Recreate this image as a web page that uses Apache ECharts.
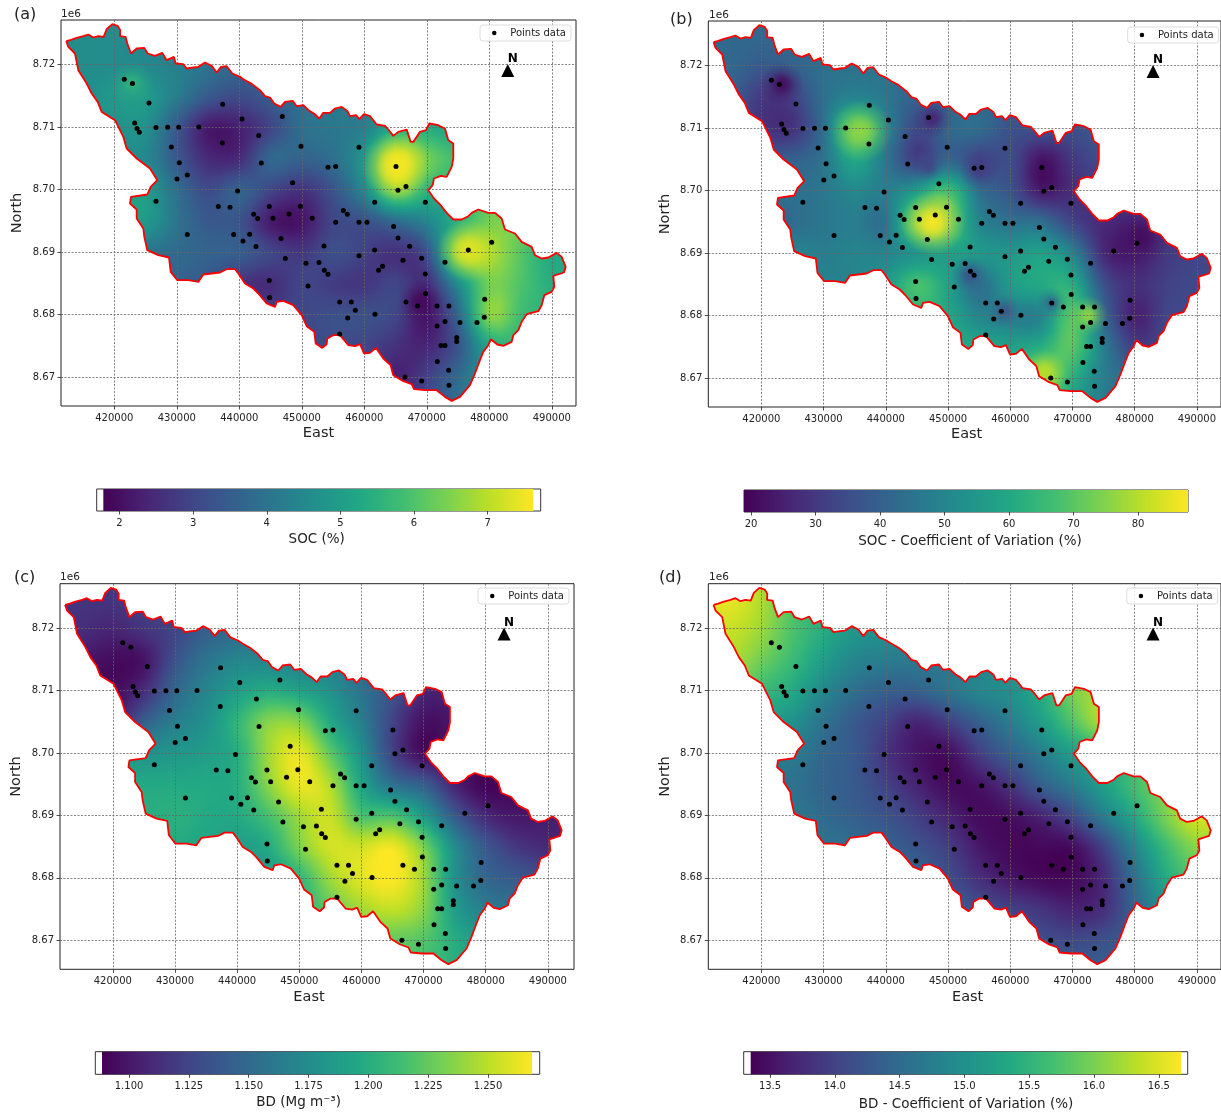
<!DOCTYPE html>
<html><head><meta charset="utf-8">
<style>html,body{margin:0;padding:0;background:#fff;overflow:hidden}#c{width:1221px;height:1113px}</style>
<script src="https://cdn.jsdelivr.net/npm/echarts@6/dist/echarts.min.js"></script>
</head><body><div id="c"></div>
<script>
// ---- grid node positions of the read surfaces (km)
const eastKm=[415,420,425,430,435,440,445,450,455,460,465,470,475,480,485,490];
const northKm=[8725,8720,8715,8710,8705,8700,8695,8690,8685,8680,8675,8670,8665];
// ---- surfaces (rows north to south)
const socGrid=[
[4.6,4.6,4.5,4.3,3.9,3.6,3.6,3.8,4.0,4.2,5.0,5.0,5.0,6.0,6.0,5.5],
[4.6,4.6,4.5,4.3,4.0,3.7,3.7,3.8,4.0,4.2,5.0,5.0,5.0,6.0,6.0,5.5],
[4.6,4.9,4.9,4.2,3.4,3.1,3.5,3.9,4.1,4.3,5.0,5.2,5.2,6.0,6.0,5.5],
[4.6,4.7,4.7,3.4,2.2,2.3,3.0,3.9,4.1,4.3,5.4,5.4,5.2,6.0,6.0,5.5],
[4.6,4.6,4.5,3.4,2.5,2.5,3.7,3.6,3.9,4.9,7.3,6.4,5.8,6.0,6.0,5.5],
[5.0,5.0,5.0,3.9,3.1,3.6,3.0,2.6,3.3,4.5,6.6,5.6,5.5,6.0,6.0,5.5],
[4.9,4.9,4.9,4.0,3.4,3.3,2.2,2.1,3.0,3.2,3.8,4.4,5.5,6.4,6.3,5.5],
[4.0,4.0,4.0,3.8,3.6,3.5,3.0,2.7,3.2,2.9,2.6,3.2,6.6,6.9,6.1,5.3],
[3.6,3.6,3.6,3.6,3.3,2.7,2.5,3.0,2.8,2.7,3.0,2.5,4.6,6.4,6.0,5.4],
[3.2,3.2,3.2,3.2,3.2,3.0,2.9,3.0,3.2,3.2,3.0,2.1,3.7,6.6,5.8,5.5],
[3.1,3.1,3.1,3.1,3.1,3.1,3.1,3.1,3.1,3.0,2.6,2.4,3.3,5.2,5.5,5.5],
[3.0,3.0,3.0,3.0,3.0,3.0,3.0,3.0,3.0,3.0,2.3,2.9,3.8,4.8,5.2,5.2],
[3.0,3.0,3.0,3.0,3.0,3.0,3.0,3.0,3.0,3.0,2.5,3.2,3.9,4.8,5.0,5.0]];
const socCvGrid=[
[42,42,42,42,44,44,44,42,42,40,38,36,36,36,36,36],
[42,38,40,44,45,45,44,43,42,40,38,36,36,36,36,36],
[40,30,32,44,50,46,40,42,42,40,36,36,36,36,36,36],
[36,30,29,44,70,50,34,42,43,36,36,35,38,36,36,36],
[38,38,40,45,60,46,32,42,33,35,22,30,35,36,36,36],
[44,44,44,46,51,48,57,68,44,37,24,28,32,33,33,33],
[40,40,43,46,48,45,74,72,50,45,44,33,27,26,30,33],
[48,48,50,48,50,50,55,58,55,55,58,50,27,24,30,33],
[50,50,50,50,50,55,68,58,44,56,60,62,36,28,32,34],
[55,55,55,55,55,55,62,60,50,48,50,70,42,25,33,34],
[60,60,60,60,60,60,60,60,60,58,62,70,48,32,34,34],
[60,60,60,60,60,60,60,60,60,60,78,62,48,42,40,40],
[60,60,60,60,60,60,60,60,60,60,60,55,47,42,40,40]];
const bdGrid=[
[1.116,1.116,1.125,1.13,1.143,1.15,1.15,1.15,1.15,1.15,1.13,1.11,1.105,1.1,1.1,1.1],
[1.112,1.107,1.116,1.125,1.143,1.15,1.155,1.16,1.16,1.15,1.13,1.11,1.105,1.1,1.1,1.1],
[1.1,1.094,1.098,1.134,1.157,1.17,1.17,1.165,1.165,1.15,1.13,1.11,1.105,1.1,1.1,1.1],
[1.095,1.094,1.112,1.148,1.17,1.188,1.2,1.193,1.179,1.157,1.134,1.107,1.105,1.1,1.1,1.1],
[1.107,1.107,1.143,1.165,1.179,1.206,1.236,1.236,1.197,1.165,1.125,1.096,1.1,1.1,1.1,1.1],
[1.179,1.179,1.179,1.183,1.188,1.2,1.242,1.263,1.224,1.179,1.125,1.094,1.1,1.098,1.098,1.098],
[1.197,1.197,1.197,1.197,1.197,1.2,1.236,1.263,1.247,1.193,1.157,1.143,1.107,1.09,1.095,1.1],
[1.2,1.2,1.2,1.202,1.197,1.197,1.215,1.242,1.254,1.218,1.218,1.188,1.14,1.11,1.1,1.103],
[1.197,1.197,1.197,1.197,1.193,1.188,1.197,1.233,1.256,1.256,1.265,1.233,1.175,1.138,1.118,1.11],
[1.188,1.188,1.188,1.188,1.188,1.188,1.188,1.206,1.242,1.26,1.268,1.242,1.179,1.148,1.14,1.134],
[1.206,1.206,1.206,1.206,1.206,1.206,1.206,1.206,1.224,1.242,1.251,1.236,1.188,1.165,1.157,1.15],
[1.224,1.224,1.224,1.224,1.224,1.224,1.224,1.224,1.224,1.224,1.224,1.22,1.2,1.183,1.17,1.17],
[1.215,1.215,1.215,1.215,1.215,1.215,1.215,1.215,1.215,1.215,1.215,1.215,1.2,1.188,1.18,1.18]];
const bdCvGrid=[
[16.57,16.27,15.74,15.4,15.08,15.0,14.9,14.9,14.9,15.0,15.4,16.0,16.3,16.3,16.3,16.3],
[16.4,16.17,15.74,15.4,15.08,15.0,14.9,14.9,14.9,15.0,15.4,16.0,16.3,16.3,16.3,16.3],
[16.27,15.94,15.6,15.18,14.85,14.74,14.68,14.7,14.8,15.0,15.4,16.0,16.3,16.3,16.3,16.3],
[16.0,15.6,15.34,14.88,14.55,14.35,14.35,14.6,14.85,15.0,15.4,16.0,16.27,16.3,16.3,16.3],
[15.3,15.18,15.0,14.6,14.28,14.0,13.68,13.95,14.35,14.74,15.18,15.74,16.27,16.3,16.3,16.3],
[14.74,14.74,14.74,14.45,14.28,13.85,13.55,13.45,13.95,14.35,14.74,15.18,15.34,15.6,15.8,16.0],
[14.68,14.68,14.6,14.41,14.28,14.0,13.68,13.45,13.52,13.85,14.35,14.74,15.2,15.67,15.99,16.17],
[14.68,14.68,14.68,14.5,14.35,14.2,13.95,13.68,13.45,13.48,13.68,14.08,14.74,15.34,16.0,16.44],
[14.6,14.6,14.6,14.6,14.55,14.41,14.2,13.95,13.58,13.42,13.42,13.45,14.0,14.85,15.6,16.07],
[14.6,14.6,14.6,14.6,14.6,14.55,14.45,14.15,13.8,13.55,13.42,13.42,13.75,14.55,15.34,15.74],
[14.5,14.5,14.5,14.5,14.5,14.5,14.45,14.35,14.18,14.0,13.85,13.68,13.8,14.41,15.0,15.3],
[14.4,14.4,14.4,14.4,14.4,14.4,14.4,14.35,14.3,14.28,14.15,14.08,14.18,14.35,14.6,14.8],
[14.4,14.4,14.4,14.4,14.4,14.4,14.4,14.4,14.3,14.28,14.28,14.35,14.35,14.45,14.6,14.8]];
// ---- local extremes narrower than the node spacing: east km, north km, value, radius km
const socSpots=[[465.1,8703.7,7.55,5.5],[476.7,8690.3,7.35,5],[422.9,8717,5.5,3.5],[469,8682,1.9,3.5]];
const socCvSpots=[[447.6,8694.8,87,5.2],[423.3,8717,21,3.5],[447.5,8711.5,26,3.2],[446.8,8704,33,2.6],[455,8703.5,31,3.2],[453.5,8686.5,37,3],[459,8680.7,38,2.6],[466.6,8682,43,2.6],[481,8692.5,21,4.5],[436,8709.5,76,5],[472.5,8680,76,3.2],[465.5,8671,80,3.5]];
const bdSpots=[];
const bdCvSpots=[];
// ---- study area boundary (east km, north km)
const boundary=[[412.32,8723.73],[413.07,8723.94],[413.98,8724.26],[415.04,8724.53],[415.84,8724.8],[416.64,8724.32],[417.44,8724.53],[418.3,8724.42],[418.78,8725.65],[419.68,8726.45],[420.54,8726.18],[420.96,8725.49],[420.91,8724.53],[421.82,8724.42],[422.08,8723.36],[422.67,8721.76],[423.58,8722.56],[424.8,8722.66],[425.34,8721.76],[426.51,8721.38],[427.68,8721.86],[428.38,8720.69],[429.55,8721.22],[429.82,8720.16],[431.04,8720.05],[431.58,8719.36],[432.64,8719.52],[433.44,8719.62],[434.51,8720.32],[435.58,8719.78],[436.38,8718.72],[437.07,8719.62],[437.98,8719.73],[438.88,8718.56],[440.11,8718.02],[440.91,8717.49],[442,8716.9],[443.31,8715.89],[444.11,8714.93],[444.91,8714.72],[445.6,8713.76],[446.62,8713.22],[447.31,8714.02],[448.54,8714.18],[449.18,8713.33],[450.24,8713.49],[451.2,8712.58],[451.95,8712.16],[452.8,8711.36],[453.44,8712.26],[454.51,8712.26],[455.31,8712.96],[456.38,8713.22],[457.28,8712.58],[457.71,8711.73],[458.67,8711.89],[459.2,8711.25],[459.95,8712.05],[460.91,8711.73],[461.98,8710.4],[463.31,8710.18],[463.84,8709.6],[464.64,8708.58],[465.44,8709.22],[466.78,8709.6],[467.42,8707.62],[467.84,8707.62],[468.91,8709.22],[469.87,8709.49],[470.4,8710.56],[471.84,8710.29],[472.91,8709.76],[473.44,8707.89],[474.24,8707.36],[474.24,8704.96],[473.98,8703.62],[473.18,8702.02],[472.22,8702.18],[471.15,8701.76],[470.94,8700.69],[470.24,8699.89],[471.15,8698.56],[472.22,8697.49],[473.18,8696.26],[474.24,8695.2],[475.58,8695.2],[476.64,8695.73],[477.18,8696.26],[478.24,8696.8],[479.84,8696.26],[480.91,8696.26],[481.98,8695.36],[482.51,8693.6],[484.11,8692.96],[485.18,8691.62],[486.78,8690.82],[487.31,8689.49],[488.38,8688.96],[489.44,8689.12],[490.78,8689.86],[491.58,8689.22],[492.22,8687.62],[491.95,8686.72],[490.24,8686.18],[490.4,8684.42],[489.98,8683.62],[488.8,8683.09],[488.38,8681.49],[487.84,8680.53],[485.98,8680.05],[485.18,8678.82],[484.64,8677.49],[483.84,8676.69],[483.58,8675.62],[482.24,8674.98],[481.28,8675.2],[480.27,8676.05],[479.84,8675.09],[479.04,8674.02],[478.51,8672.69],[477.71,8670.56],[476.91,8668.69],[475.31,8666.82],[473.98,8666.18],[472.91,8666.82],[471.58,8667.89],[469.71,8667.89],[467.95,8668.05],[467.58,8668.85],[466.24,8669.33],[464.64,8670.29],[464.2,8671.89],[463.04,8672.96],[461.87,8674.66],[460.91,8673.86],[459.95,8673.76],[459.31,8675.25],[458.51,8674.93],[457.44,8675.09],[456.11,8676.69],[455.04,8676.69],[454.08,8676.16],[453.98,8675.25],[453.28,8674.66],[452.22,8675.36],[452,8677.22],[450.78,8678.13],[449.98,8679.89],[448.64,8681.49],[447.04,8682.18],[445.98,8682.02],[445.71,8681.22],[444.38,8681.76],[443.04,8683.36],[442.24,8684.16],[440.91,8684.96],[439.84,8686.56],[439.31,8687.25],[437.98,8687.25],[436.91,8686.72],[434.24,8686.4],[433.44,8685.22],[431.84,8685.49],[430.08,8685.49],[429.02,8686.82],[428.75,8689.12],[427.04,8689.49],[425.28,8690.29],[424.8,8692.42],[424.64,8693.76],[423.58,8695.36],[423.58,8696.8],[422.51,8697.76],[422.67,8698.82],[425.28,8699.2],[425.82,8700.42],[426.88,8701.49],[426.78,8701.76],[425.71,8703.36],[423.58,8704.96],[421.98,8706.56],[421.44,8708.42],[420.11,8711.09],[417.98,8712.42],[417.34,8714.02],[416.38,8715.36],[415.58,8716.96],[414.24,8719.09],[413.71,8721.76],[412.64,8722.82],[412.32,8723.73]];
// ---- sampling points (east km, north km)
const samplePoints=[[421.6,8717.65],[422.9,8716.96],[425.55,8713.86],[423.26,8710.66],[423.63,8709.76],[424,8709.17],[426.67,8709.92],[428.54,8709.97],[430.3,8709.97],[433.55,8710.02],[437.34,8713.65],[437.28,8707.46],[440.43,8711.3],[429.12,8706.82],[430.4,8704.27],[431.68,8702.34],[430.03,8701.7],[439.73,8699.78],[448.53,8701.1],[426.67,8698.13],[436.64,8697.28],[438.51,8697.17],[444.8,8697.28],[442.3,8696.05],[442.94,8695.36],[445.39,8695.41],[447.95,8696.1],[449.76,8697.33],[431.68,8692.8],[439.1,8692.8],[441.66,8692.85],[440.59,8691.78],[442.67,8690.88],[446.67,8692.16],[447.36,8688.96],[450.67,8688.21],[444.8,8685.44],[451,8684.58],[444.86,8682.72],[446.88,8711.68],[443.1,8708.64],[449.87,8706.93],[459.15,8706.77],[443.52,8704.26],[454.19,8703.57],[455.42,8703.68],[465.07,8703.68],[466.67,8700.48],[465.39,8699.89],[461.66,8697.97],[469.76,8697.97],[456.64,8696.64],[457.28,8696.05],[451.68,8695.41],[455.42,8694.77],[459.15,8694.77],[460.43,8694.77],[464.69,8694.08],[465.39,8692.26],[467.26,8690.93],[453.55,8690.98],[461.66,8690.34],[459.15,8689.4],[452.75,8688.32],[453.6,8687.09],[454.19,8686.45],[466.19,8688.69],[469.18,8689],[462.93,8687.73],[462.29,8687.09],[469.76,8686.5],[472.91,8688.37],[476.64,8690.34],[469.8,8683.36],[456.06,8682.02],[457.92,8682.02],[458.56,8680.69],[457.34,8679.46],[461.71,8680.05],[466.67,8682.02],[468.53,8681.38],[471.63,8681.38],[473.55,8681.38],[472.91,8678.88],[471.63,8678.18],[475.31,8678.72],[478.03,8678.72],[456.06,8676.9],[474.78,8676.32],[474.78,8675.68],[472.27,8675.04],[472.91,8675.04],[471.68,8672.48],[473.5,8671.09],[466.51,8670.02],[469.18,8669.38],[473.55,8668.69],[480.38,8691.57],[479.26,8682.45],[479.2,8679.57]];
const northArrow=[[482.95,8719.05]];
const mapTicksX=[420000,430000,440000,450000,460000,470000,480000,490000];
const mapTicksY=[8670000,8680000,8690000,8700000,8710000,8720000];
const viridis=['#440154','#482475','#414487','#355f8d','#2a788e','#21918c','#22a884','#42be71','#7ad151','#bddf26','#fde725'];

const panels=[
 {tag:'(a)',grid:socGrid,spots:socSpots,l:61,t:20,w:515,h:386,xr:[411472,493872],east:0,
  tagX:14,tagY:15,expX:61,expY:14,
  bar:{l:96.7,t:489,w:444,h:22,range:[1.69,7.72],fill:[1.78,7.62],ticks:[2,3,4,5,6,7],dec:0,title:'SOC (%)',tx:316.7,ty:539.3},
  leg:{l:480,t:25}},
 {tag:'(b)',grid:socCvGrid,spots:socCvSpots,l:708.3,t:21,w:515,h:386,xr:[411472,493872],east:4,
  tagX:670,tagY:20,expX:709,expY:15,
  bar:{l:744,t:490,w:444,h:22,range:[18.9,87.75],fill:[18.9,87.75],ticks:[20,30,40,50,60,70,80],dec:0,title:'SOC - Coefficient of Variation (%)',tx:970,ty:541},
  leg:{l:1127.7,t:27}},
 {tag:'(c)',grid:bdGrid,spots:bdSpots,l:60,t:583.7,w:514,h:385.6,xr:[411500,494200],east:-16,
  tagX:14,tagY:578,expX:60,expY:577,
  bar:{l:95.3,t:1051.7,w:444.4,h:22.6,range:[1.0859,1.2716],fill:[1.0887,1.2684],ticks:[1.1,1.125,1.15,1.175,1.2,1.225,1.25],dec:3,title:'BD (Mg m\u207B\u00B3)',tx:298.7,ty:1102.7},
  leg:{l:478,t:588}},
 {tag:'(d)',grid:bdCvGrid,spots:bdCvSpots,l:708.3,t:583.7,w:515,h:385.6,xr:[411472,493872],east:6,
  tagX:659,tagY:578,expX:709,expY:577,
  bar:{l:743.7,t:1051.7,w:444,h:22.6,range:[13.297,16.723],fill:[13.351,16.672],ticks:[13.5,14,14.5,15,15.5,16,16.5],dec:1,title:'BD - Coefficient of Variation (%)',tx:966,ty:1104},
  leg:{l:1126.7,t:588}}
];
const yRange=[8665360,8727120];
const FONT='DejaVu Sans';
const toM=a=>a.map(p=>[p[0]*1000,p[1]*1000]);

function hexRgb(h){return [1,3,5].map(i=>parseInt(h.substr(i,2),16));}
const vRgb=viridis.map(hexRgb);
function colourOf(t){
  t=Math.max(0,Math.min(1,t))*(vRgb.length-1);
  const i=Math.min(vRgb.length-2,Math.floor(t)),f=t-i,a=vRgb[i],b=vRgb[i+1];
  return [0,1,2].map(k=>Math.round(a[k]+(b[k]-a[k])*f));
}
const css=(c,al)=>al===undefined?`rgb(${c[0]},${c[1]},${c[2]})`:`rgba(${c[0]},${c[1]},${c[2]},${al})`;
// smooth shading between the read nodes, done at paint time only (like gouraud shading)
const blend=(a,b,c,d,t)=>b+0.5*t*(c-a+t*(2*a-5*b+4*c-d+t*(3*(b-c)+d-a)));
const clampI=(i,n)=>Math.max(0,Math.min(n-1,i));

function clipOf(api){
  return {type:'polygon',shape:{points:boundary.map(p=>api.coord([p[0]*1000,p[1]*1000]))}};
}
function surfaceSeries(p,idx){
  const lo=p.bar.fill[0],hi=p.bar.fill[1],rows=p.grid,nr=rows.length,nc=eastKm.length;
  const tOf=v=>(v-lo)/(hi-lo);
  return {type:'custom',name:'surface',xAxisIndex:idx,yAxisIndex:idx,z:1,silent:true,animation:false,clip:false,
    data:northKm.slice(0,-1).map((n,j)=>[j,n]),
    encode:{x:[],y:[]},
    renderItem(params,api){
      const j=api.value(0);
      const y0=api.coord([p.xr[0],northKm[j]*1000])[1],y1=api.coord([p.xr[0],northKm[j+1]*1000])[1];
      const xL=api.coord([p.xr[0],yRange[0]])[0],xR=api.coord([p.xr[1],yRange[0]])[0];
      const xs=eastKm.map(e=>api.coord([e*1000,yRange[0]])[0]);
      let top=y0;
      if(j===0) top=y0-40;
      const steps=Math.ceil((y1-y0)/2),children=[];
      for(let s=0;s<steps;s++){
        const t=s/steps,vals=[];
        for(let c=0;c<nc;c++) vals.push(blend(rows[clampI(j-1,nr)][c],rows[j][c],rows[j+1][c],rows[clampI(j+2,nr)][c],t));
        const stops=[];
        for(let c=0;c<nc;c++){
          stops.push({offset:(xs[c]-xL)/(xR-xL),color:css(colourOf(tOf(vals[c])))});
          if(c<nc-1) for(const q of [1/3,2/3]){
            const v=blend(vals[clampI(c-1,nc)],vals[c],vals[c+1],vals[clampI(c+2,nc)],q);
            stops.push({offset:(xs[c]+(xs[c+1]-xs[c])*q-xL)/(xR-xL),color:css(colourOf(tOf(v)))});
          }
        }
        const yy=y0+(y1-y0)*s/steps;
        const ya=(s===0&&j===0)?top:yy;
        children.push({type:'rect',shape:{x:xL,y:ya,width:xR-xL,height:yy-ya+(y1-y0)/steps+1},
          style:{fill:{type:'linear',x:0,y:0,x2:1,y2:0,colorStops:stops}}});
      }
      return {type:'group',clipPath:clipOf(api),children};
    }};
}
function spotSeries(p,idx){
  const lo=p.bar.fill[0],hi=p.bar.fill[1];
  return {type:'custom',name:'spots',xAxisIndex:idx,yAxisIndex:idx,z:2,silent:true,animation:false,clip:false,
    data:p.spots.map(s=>[s[0]*1000,s[1]*1000,s[2],s[3]]),
    renderItem(params,api){
      const c=api.coord([api.value(0),api.value(1)]),r=api.value(3)*6.25;
      const rgb=colourOf((api.value(2)-lo)/(hi-lo));
      return {type:'group',clipPath:clipOf(api),children:[{type:'circle',shape:{cx:c[0],cy:c[1],r},
        style:{fill:{type:'radial',x:.5,y:.5,r:.5,colorStops:[{offset:0,color:css(rgb,1)},{offset:.25,color:css(rgb,.8)},{offset:.6,color:css(rgb,.28)},{offset:1,color:css(rgb,0)}]}}}]};
    }};
}

const grid=[],xAxis=[],yAxis=[],series=[],legend=[],graphicEls=[];
panels.forEach((p,i)=>{
  grid.push({left:p.l,top:p.t,width:p.w,height:p.h,show:true,borderColor:'#222',borderWidth:1,backgroundColor:'transparent',z:0});
  const sl={show:true,lineStyle:{color:'#666',width:0.8,type:[2,1.5]}};
  xAxis.push({gridIndex:i,type:'value',min:p.xr[0],max:p.xr[1],z:3,
    name:'East',nameLocation:'middle',nameGap:20,nameTextStyle:{fontFamily:FONT,fontSize:14.5,color:'#222',padding:[0,0,0,p.east]},
    axisLine:{show:false},
    axisTick:{show:true,length:3.5,customValues:mapTicksX,lineStyle:{color:'#222',width:.8}},
    axisLabel:{customValues:mapTicksX,formatter:v=>String(v),fontFamily:FONT,fontSize:10,color:'#222',margin:7},
    splitLine:sl});
  yAxis.push({gridIndex:i,type:'value',min:yRange[0],max:yRange[1],z:3,
    name:'North',nameLocation:'middle',nameGap:36,nameTextStyle:{fontFamily:FONT,fontSize:14.5,color:'#222'},
    axisLine:{show:false},
    axisTick:{show:true,length:3.5,customValues:mapTicksY,lineStyle:{color:'#222',width:.8}},
    axisLabel:{customValues:mapTicksY,formatter:v=>(v/1e6).toFixed(2),fontFamily:FONT,fontSize:10,color:'#222',margin:6},
    splitLine:sl});
  series.push(surfaceSeries(p,i));
  if(p.spots.length) series.push(spotSeries(p,i));
  series.push({type:'line',name:'Boundary',xAxisIndex:i,yAxisIndex:i,z:4,data:toM(boundary),showSymbol:false,symbol:'none',smooth:false,silent:true,animation:false,lineStyle:{color:'#f00',width:1.8}});
  series.push({type:'scatter',name:'Points data',xAxisIndex:i,yAxisIndex:i,z:5,data:toM(samplePoints),symbol:'circle',symbolSize:5,itemStyle:{color:'#000',opacity:1},silent:true,animation:false});
  series.push({type:'scatter',name:'North arrow',xAxisIndex:i,yAxisIndex:i,z:5,data:toM(northArrow),symbol:'triangle',symbolSize:13,itemStyle:{color:'#000',opacity:1},silent:true,animation:false,
    label:{show:true,formatter:'N',position:'top',distance:-1,offset:[5,0],fontFamily:FONT,fontWeight:'bold',fontSize:12,color:'#000'}});
  legend.push({data:['Points data'],left:p.leg.l,top:p.leg.t,orient:'vertical',icon:'circle',itemWidth:22,itemHeight:4.5,itemGap:0,
    padding:[3,5,3,12],borderColor:'#ddd',borderWidth:1,borderRadius:3,backgroundColor:'rgba(255,255,255,.85)',
    textStyle:{fontFamily:FONT,fontSize:10,color:'#222'},selectedMode:false,z:6,itemStyle:{color:'#000',opacity:1}});
  graphicEls.push({type:'text',x:p.tagX,y:p.tagY,style:{text:p.tag,font:'16px "DejaVu Sans"',fill:'#222',textVerticalAlign:'middle'}});
  graphicEls.push({type:'text',x:p.expX,y:p.expY,style:{text:'1e6',font:'10.5px "DejaVu Sans"',fill:'#222',textVerticalAlign:'middle'}});
  graphicEls.push({type:'text',x:p.bar.tx,y:p.bar.ty,style:{text:p.bar.title,font:'13.5px "DejaVu Sans"',fill:'#222',textAlign:'center',textVerticalAlign:'middle'}});
});
panels.forEach((p,i)=>{
  const k=4+i,b=p.bar;
  grid.push({left:b.l,top:b.t,width:b.w,height:b.h,show:true,borderColor:'#333',borderWidth:1,backgroundColor:'#fff'});
  xAxis.push({gridIndex:k,type:'value',min:b.range[0],max:b.range[1],z:3,
    axisLine:{show:false},splitLine:{show:false},
    axisTick:{show:true,length:3.5,customValues:b.ticks,lineStyle:{color:'#222',width:.8}},
    axisLabel:{customValues:b.ticks,formatter:v=>v.toFixed(b.dec),fontFamily:FONT,fontSize:10,color:'#222',margin:7}});
  yAxis.push({gridIndex:k,type:'value',min:0,max:1,show:false});
  series.push({type:'custom',name:'colorbar',xAxisIndex:k,yAxisIndex:k,silent:true,animation:false,z:1,
    data:[[b.fill[0],b.fill[1]]],encode:{x:[0,1]},
    renderItem(params,api){
      const a=api.coord([api.value(0),1]),c=api.coord([api.value(1),0]);
      return {type:'rect',shape:{x:a[0],y:a[1],width:c[0]-a[0],height:c[1]-a[1]},
        style:{fill:{type:'linear',x:0,y:0,x2:1,y2:0,colorStops:viridis.map((col,n)=>({offset:n/(viridis.length-1),color:col}))}}};
    }});
});
const chart=echarts.init(document.getElementById('c'),null,{renderer:'canvas',width:1221,height:1113});
chart.setOption({animation:false,backgroundColor:'#fff',textStyle:{fontFamily:FONT},tooltip:{show:false},grid,xAxis,yAxis,legend,series,graphic:{elements:graphicEls}});
</script></body></html>
